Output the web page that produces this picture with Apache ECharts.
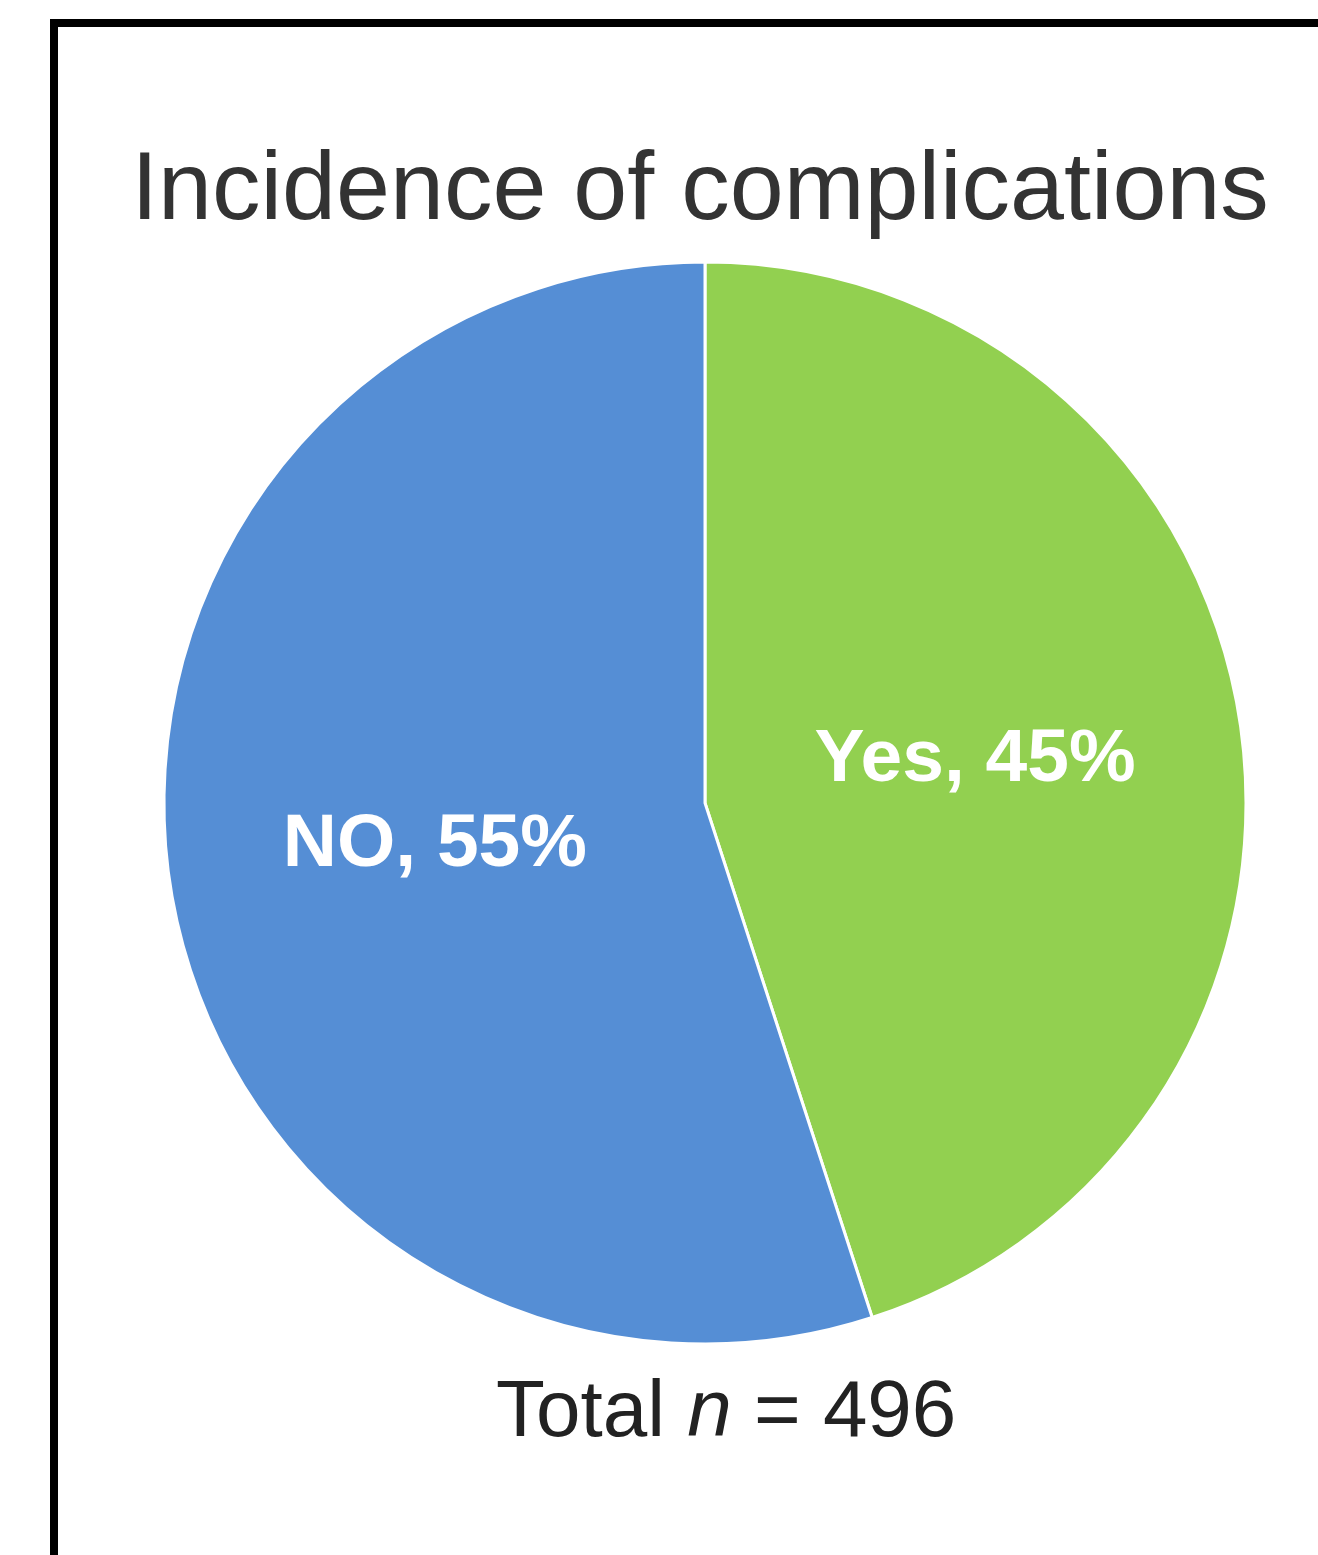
<!DOCTYPE html>
<html>
<head>
<meta charset="utf-8">
<script src="https://cdn.jsdelivr.net/npm/echarts@6/dist/echarts.min.js"></script>
<style>
html,body{margin:0;padding:0;background:#fff;}
#chart{width:1318px;height:1555px;}
</style>
</head>
<body>
<div id="chart"></div>
<script>
var categories = ['Yes', 'NO'];
var values = [45, 55];
var colors = ['#92D050', '#558ED5'];
var titleText = 'Incidence of complications';
var totalN = 496;

var chart = echarts.init(document.getElementById('chart'), null, {renderer: 'canvas'});
var data = categories.map(function (c, i) {
  return {name: c, value: values[i], itemStyle: {color: colors[i]}};
});
chart.setOption({
  animation: false,
  backgroundColor: '#fff',
  title: {
    text: titleText,
    left: 695,
    textAlign: 'center',
    top: 139,
    textStyle: {fontFamily: 'Liberation Sans, Arial, sans-serif', fontSize: 97, fontWeight: 'normal', color: '#333'}
  },
  graphic: [
    {type: 'line', shape: {x1: 54, y1: 19, x2: 54, y2: 1555}, style: {stroke: '#000', lineWidth: 8}},
    {type: 'line', shape: {x1: 50, y1: 23, x2: 1318, y2: 23}, style: {stroke: '#000', lineWidth: 8}},
    {
      type: 'text', left: 496, top: 1374,
      style: {
        text: '{a|Total }{i|n}{a| = ' + totalN + '}',
        rich: {
          a: {fontFamily: 'Liberation Sans, Arial, sans-serif', fontSize: 80, fill: '#222'},
          i: {fontFamily: 'Liberation Sans, Arial, sans-serif', fontSize: 80, fontStyle: 'italic', fill: '#222'}
        }
      }
    }
  ],
  series: [{
    type: 'pie',
    center: [705, 803],
    radius: [0, 541],
    startAngle: 90,
    clockwise: true,
    data: data,
    itemStyle: {borderColor: '#fff', borderWidth: 3},
    label: {
      show: true,
      position: 'inside',
      formatter: '{b}, {d}%',
      color: '#fff',
      fontFamily: 'Liberation Sans, Arial, sans-serif',
      fontWeight: 'bold',
      fontSize: 75
    },
    labelLine: {show: false},
    emphasis: {disabled: true}
  }]
});
</script>
</body>
</html>
